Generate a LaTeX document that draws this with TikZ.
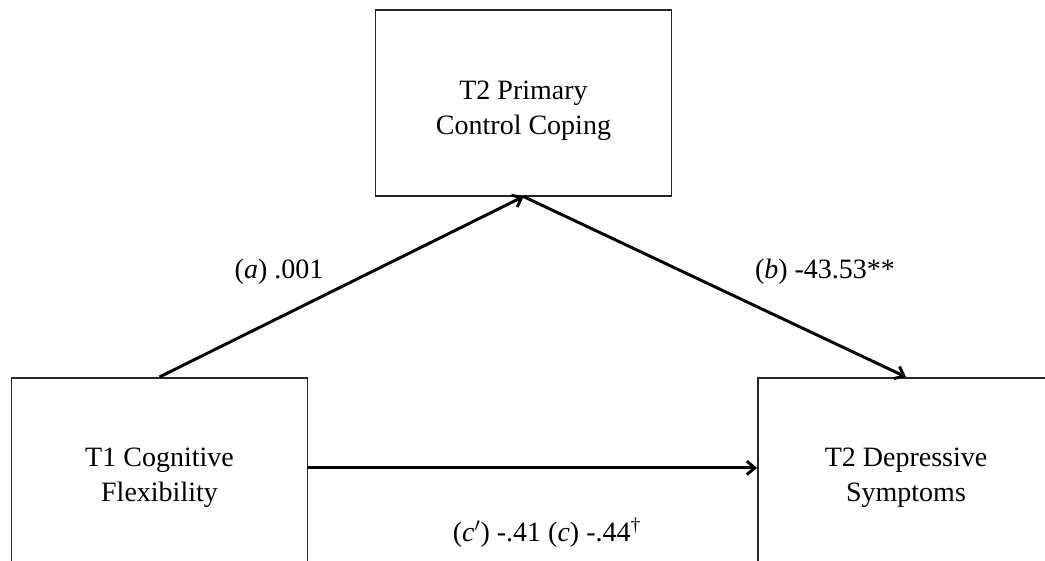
\documentclass[tikz,border=0pt]{standalone}
\usepackage{fontspec}
\setmainfont{Liberation Serif}
\usetikzlibrary{positioning,arrows.meta}

\begin{document}
\begin{tikzpicture}[x=0.75pt, y=-0.75pt, >={Straight Barb[length=6pt, width=10pt]},
    main/.style = {draw=black!85, line width=1.3pt, minimum width=222pt, minimum height=139pt,
                   align=center, text height=47pt, text depth=0pt,
                   font=\fontsize{21}{26.5}\selectfont},
    path/.style = {->, line width=2.2pt},
    lbl/.style = {font=\fontsize{21}{25}\selectfont}]
                  \useasboundingbox (0,0) rectangle (1045,560);
                  \clip (0,0) rectangle (1045,560);
                  \node[main] (pcc) at (523.5,103) {T2 Primary\\Control Coping};
                  \node[main] (cf) at (159.5,470.5) {T1 Cognitive\\Flexibility};
                  \node[main] (ds) at (906,470.5) {T2 Depressive\\Symptoms};
                  \draw[path] (cf.north) -- (pcc.south);
                  \draw[path] (pcc.south) -- (ds.north);
                  \draw[path] ([yshift=2pt]cf.east) -- ([yshift=2pt]ds.west);
                  \node[lbl] (la) at (279,272) {(\textit{a}) .001};
                  \node[lbl] (lb) at (825,272) {(\textit{b}) -43.53**};
                  \node[lbl] (lc) at (547,533) {(\textit{c}$'$) -.41 (\textit{c}) -.44\textsuperscript{\dag}};
              \end{tikzpicture}
\end{document}
